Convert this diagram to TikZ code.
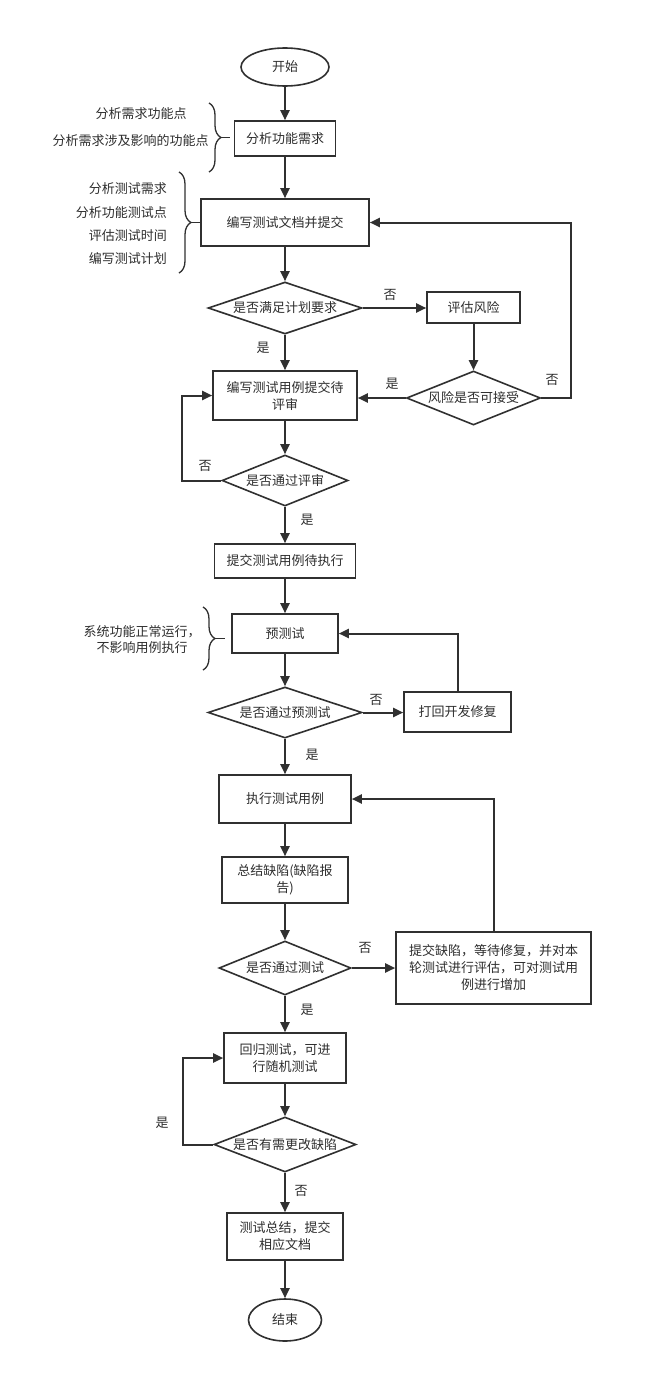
\documentclass[tikz,border=0pt]{standalone}
\usepackage{fontspec}
\newfontfamily\cjk{Noto Sans CJK SC}
\usepackage{tikz}
\usetikzlibrary{shapes.geometric,arrows.meta,decorations.pathreplacing}
\definecolor{linec}{HTML}{303030}
\definecolor{txtc}{HTML}{2E2E2E}
\tikzset{
		box/.style 2 args={rectangle,draw=linec,line width=1.6pt,minimum width=#1,minimum height=#2,align=center,inner sep=1pt},
		dia/.style 2 args={diamond,draw=linec,line width=1.6pt,minimum width=#1,minimum height=#2,aspect=3,inner sep=0pt},
		oval/.style 2 args={ellipse,draw=linec,line width=1.6pt,minimum width=#1,minimum height=#2,inner sep=0pt},
		}
\tikzset{arr/.style={draw=linec,line width=2pt,-{Triangle[length=10pt,width=9pt]}}}
\tikzset{lbl/.style={inner sep=0pt}}
\tikzset{brc/.style={draw=linec,line width=1.3pt,decorate,decoration={brace,amplitude=12pt}}}
\begin{document}
\begin{tikzpicture}[x=1pt,y=-1pt,font=\cjk\fontsize{13}{17}\selectfont,text=txtc]
					\fill[white] (0,0) rectangle (665,1373);
					\useasboundingbox (0,0) rectangle (665,1373);
					%NODES main column
					\node[oval={88pt}{38pt}](start) at (285,67){开始};
					\node[box={101pt}{35pt}](req) at (285,138.5){分析功能需求};
					\node[box={168pt}{47pt}](doc) at (285,222.5){编写测试文档并提交};
					\node[dia={154pt}{52pt}](plan) at (285,308){是否满足计划要求};
					\node[box={144pt}{49pt}](case) at (285,395.5){编写测试用例提交待\\评审};
					\node[dia={126pt}{51pt}](review) at (285,480.5){是否通过评审};
					\node[box={141pt}{34pt}](submit) at (285,561){提交测试用例待执行};
					\node[box={106pt}{39pt}](pre) at (285,633.5){预测试};
					\node[dia={154pt}{51pt}](prepass) at (285,712.5){是否通过预测试};
					\node[box={132pt}{48pt}](exec) at (285,799){执行测试用例};
					\node[box={126pt}{46pt}](sum) at (285,880){总结缺陷(缺陷报\\告)};
					\node[dia={132pt}{54pt}](pass) at (285,968){是否通过测试};
					\node[box={122pt}{50pt}](reg) at (285,1058){回归测试，可进\\行随机测试};
					\node[dia={142pt}{55pt}](change) at (285,1144.5){是否有需更改缺陷};
					\node[box={116pt}{47pt}](final) at (285,1236.5){测试总结，提交\\相应文档};
					\node[oval={73pt}{42pt}](stop) at (285,1320){结束};
					%NODES right column
					\node[box={93pt}{31pt}](risk) at (473.5,307.5){评估风险};
					\node[dia={134pt}{54pt}](accept) at (473.5,398){风险是否可接受};
					\node[box={107pt}{40pt}](fix) at (457.5,712){打回开发修复};
					\node[box={195pt}{72pt}](defect) at (493.5,968){提交缺陷，等待修复，并对本\\轮测试进行评估，可对测试用\\例进行增加};
					%NOTES
					\node[lbl](n1) at (141,114){分析需求功能点};
					\node[lbl](n2) at (130.5,141){分析需求涉及影响的功能点};
					\node[lbl,anchor=east,align=right,font=\cjk\fontsize{13}{23.3}\selectfont](n3) at (167,224){分析测试需求\\分析功能测试点\\评估测试时间\\编写测试计划};
					\node[lbl,align=center,font=\cjk\fontsize{13}{15.6}\selectfont](n4) at (142,639.5){系统功能正常运行，\\不影响用例执行};
					%BRACKETS
					\draw[brc] (209,103) -- (209,172);
					\draw[draw=linec,line width=1.3pt] (221,137.5) -- (230,137.5);
					\draw[brc] (179,172) -- (179,273);
					\draw[draw=linec,line width=1.3pt] (191,222.5) -- (200,222.5);
					\draw[brc] (203,607) -- (203,670);
					\draw[draw=linec,line width=1.3pt] (215,638.5) -- (225,638.5);
					%PATHS
					\draw[arr] (start) -- (req);
					\draw[arr] (req) -- (doc);
					\draw[arr] (doc) -- (plan);
					\draw[arr] (plan.east) -- (plan.east -| risk.west);
					\draw[arr] (plan) -- (case);
					\draw[arr] (risk) -- (accept);
					\draw[arr] (accept.west) -- (accept.west -| case.east);
					\draw[arr] (accept.east) -- ++(30,0) |- (doc.east);
					\draw[arr] (case) -- (review);
					\draw[arr] (review.west) -- ++(-39,0) |- (case.west);
					\draw[arr] (review) -- (submit);
					\draw[arr] (submit) -- (pre);
					\draw[arr] (pre) -- (prepass);
					\draw[arr] (prepass.east) -- (prepass.east -| fix.west);
					\draw[arr] (fix.north) |- (pre.east);
					\draw[arr] (prepass) -- (exec);
					\draw[arr] (exec) -- (sum);
					\draw[arr] (sum) -- (pass);
					\draw[arr] (pass.east) -- (pass.east -| defect.west);
					\draw[arr] (defect.north) |- (exec.east);
					\draw[arr] (pass) -- (reg);
					\draw[arr] (reg) -- (change);
					\draw[arr] (change.west) -- ++(-30,0) |- (reg.west);
					\draw[arr] (change) -- (final);
					\draw[arr] (final) -- (stop);
					%LABELS
					\node[lbl](no1) at (390,295){否};
					\node[lbl](yes1) at (263,348){是};
					\node[lbl](yes2) at (392,384){是};
					\node[lbl](no2) at (552,380){否};
					\node[lbl](no3) at (205,466){否};
					\node[lbl](yes3) at (307,520){是};
					\node[lbl](no4) at (376,700){否};
					\node[lbl](yes4) at (312,755){是};
					\node[lbl](no5) at (365,948){否};
					\node[lbl](yes5) at (307,1010){是};
					\node[lbl](yes6) at (162,1123){是};
					\node[lbl](no6) at (301,1191){否};
				\end{tikzpicture}
\end{document}
